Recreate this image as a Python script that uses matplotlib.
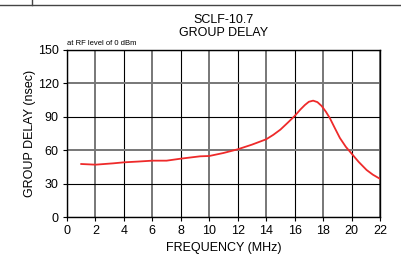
import matplotlib
matplotlib.use('Agg')
import matplotlib.pyplot as plt
from matplotlib.lines import Line2D

plt.rcParams['font.family'] = ['Liberation Sans', 'DejaVu Sans']

# group delay curve
freq = [1.0, 2.0, 3.25, 4.0, 5.0, 6.0, 7.0, 8.0, 9.35, 10.0, 11.0, 12.0, 13.0,
        14.0, 14.5, 15.0, 15.5, 16.0, 16.4, 16.72, 17.0, 17.3, 17.6, 17.9, 18.2,
        18.48, 18.8, 19.18, 19.6, 20.0, 20.5, 21.06, 21.5, 22.0]
delay = [47.6, 47.0, 48.2, 49.1, 49.8, 50.6, 50.6, 52.4, 54.5, 54.8, 57.5, 60.8, 65.0,
         69.8, 73.8, 78.5, 84.5, 90.7, 96.5, 100.6, 103.5, 104.5, 103.2, 99.7, 94.5,
         88.7, 80.5, 71.0, 63.0, 57.0, 49.5, 42.2, 38.0, 34.3]

xticks = list(range(0, 23, 2))
yticks = [0, 30, 60, 90, 120, 150]

fig = plt.figure(figsize=(4.01, 2.56), dpi=100)
ax = fig.add_axes([67/401, 1 - 217/256, 313/401, 167/256])

ax.plot(freq, delay, color='#ee2a2a', lw=1.3, zorder=3)

ax.set_xlim(0, 22)
ax.set_ylim(0, 150)
ax.set_xticks(xticks)
ax.set_yticks(yticks)
ax.tick_params(labelsize=9, length=3, width=0.8, color='black', pad=3)
ax.grid(True, color='black', lw=0.8)
for i, gl in enumerate(ax.get_xgridlines()):
    if (i % 2) == 1:
        gl.set_color('#777777')
        gl.set_linewidth(1.4)
for i, gl in enumerate(ax.get_ygridlines()):
    if i in (2, 4):
        gl.set_color('#777777')
        gl.set_linewidth(1.4)
for s in ax.spines.values():
    s.set_linewidth(1.0)
ax.set_axisbelow(True)

ax.set_xlabel('FREQUENCY (MHz)', fontsize=9, labelpad=3)
ax.set_ylabel('GROUP DELAY (nsec)', fontsize=9, labelpad=1)
ax.set_title('SCLF-10.7\nGROUP DELAY', fontsize=9, linespacing=1.15, pad=10)
ax.text(0.0, 1.015, 'at RF level of 0 dBm', transform=ax.transAxes, fontsize=5.5,
        ha='left', va='bottom')

# page frame pieces at the top of the crop
fig.add_artist(Line2D([0, 1], [1 - 4.5/256, 1 - 4.5/256], color='#444444', lw=1.0,
                      transform=fig.transFigure))
fig.add_artist(Line2D([31.5/401, 31.5/401], [1, 1 - 4.5/256], color='#444444', lw=1.0,
                      transform=fig.transFigure))

fig.savefig('out.png', dpi=100)
